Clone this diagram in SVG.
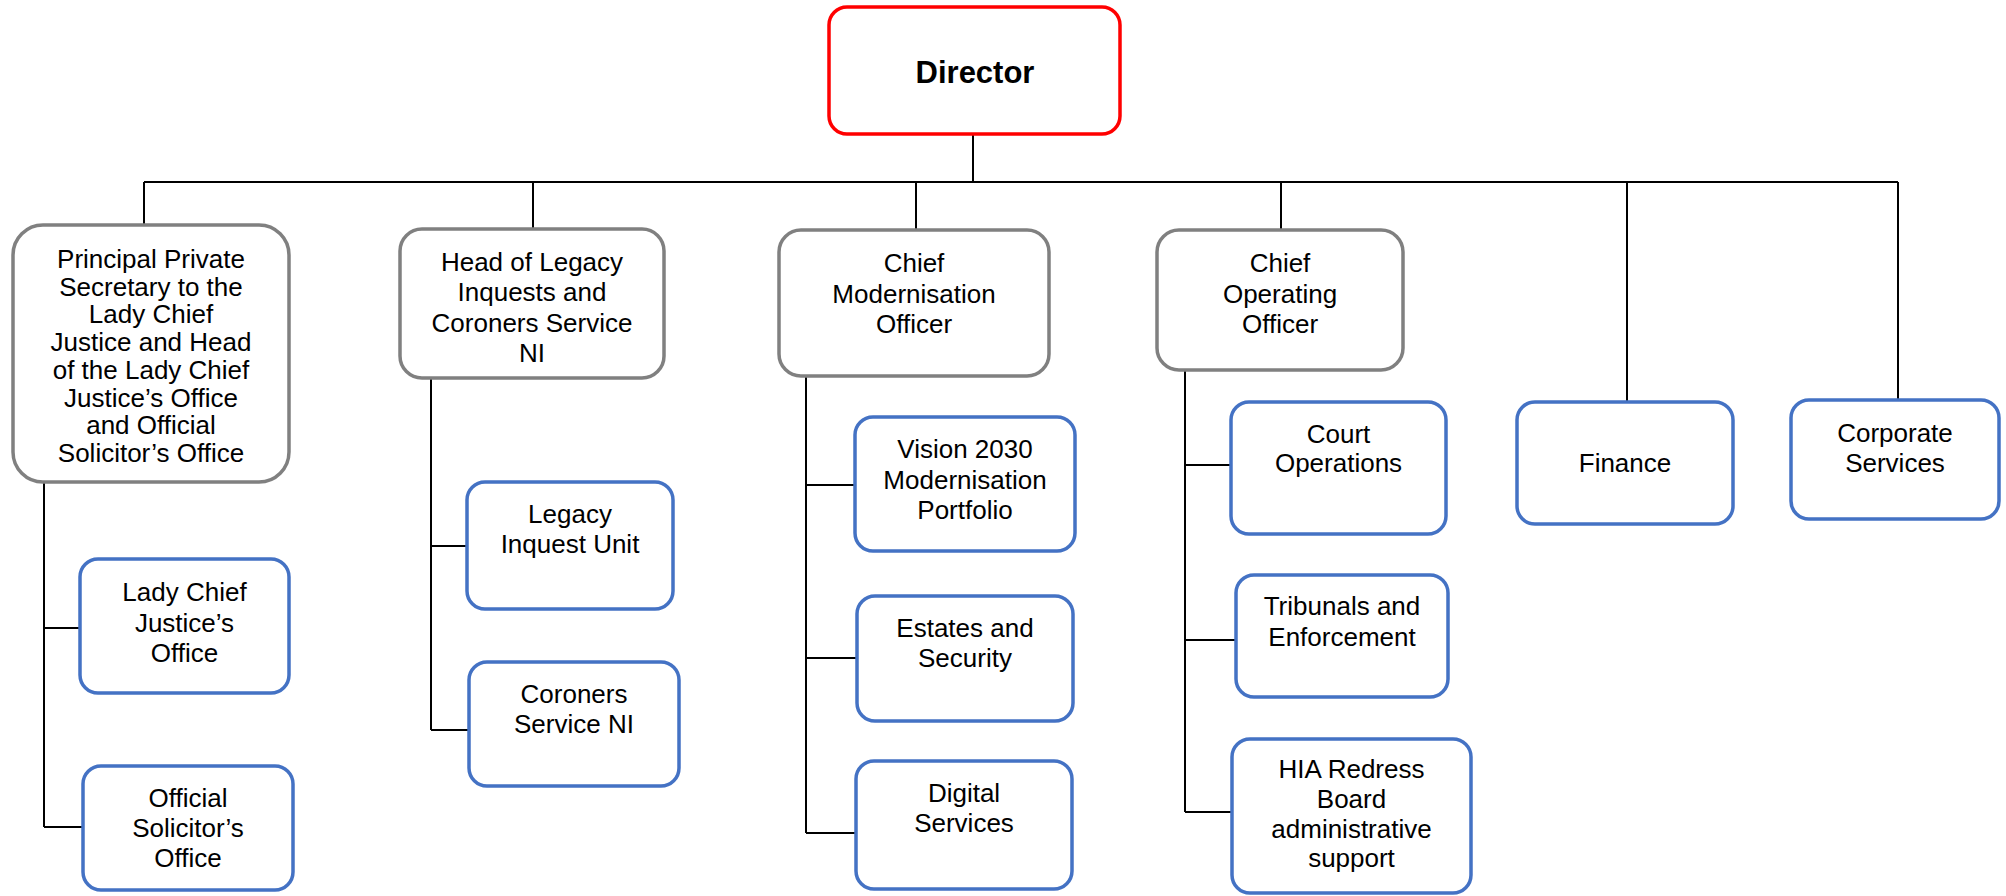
<svg xmlns="http://www.w3.org/2000/svg" width="2006" height="896" viewBox="0 0 2006 896">
<style>
text{font-family:"Liberation Sans",Arial,sans-serif;font-size:26px;fill:#000;text-anchor:middle}
.dir{font-size:31px;font-weight:bold}
.red{fill:#fff;stroke:#FF0000;stroke-width:3.5}
.gray{fill:#fff;stroke:#808080;stroke-width:3.5}
.blue{fill:#fff;stroke:#4472C4;stroke-width:3.5}
.conn{stroke:#000;stroke-width:2;fill:none}
</style>
<rect width="2006" height="896" fill="#fff"/>
<g id="connectors" class="conn">
<path d="M973,134 V182"/>
<path d="M144,182 H1898"/>
<path d="M144,182 V225"/>
<path d="M533,182 V229"/>
<path d="M916,182 V230"/>
<path d="M1281,182 V230"/>
<path d="M1627,182 V402"/>
<path d="M1898,182 V400"/>
<path d="M44,482 V827"/>
<path d="M44,628 H80"/>
<path d="M44,827 H83"/>
<path d="M431,378 V730"/>
<path d="M431,546 H467"/>
<path d="M431,730 H469"/>
<path d="M806,376 V833"/>
<path d="M806,485 H855"/>
<path d="M806,658 H857"/>
<path d="M806,833 H856"/>
<path d="M1185,370 V812"/>
<path d="M1185,465 H1231"/>
<path d="M1185,640 H1236"/>
<path d="M1185,812 H1232"/>
</g>
<g id="director">
<rect class="red" x="829" y="7" width="291" height="127" rx="18"/>
<text class="dir" x="975" y="83">Director</text>
</g>
<g id="pps">
<rect class="gray" x="13" y="225" width="276" height="257" rx="30"/>
<text x="151" y="268">Principal Private</text>
<text x="151" y="295.7">Secretary to the</text>
<text x="151" y="323.4">Lady Chief</text>
<text x="151" y="351.1">Justice and Head</text>
<text x="151" y="378.8">of the Lady Chief</text>
<text x="151" y="406.5">Justice’s Office</text>
<text x="151" y="434.2">and Official</text>
<text x="151" y="461.9">Solicitor’s Office</text>
</g>
<g id="legacy-head">
<rect class="gray" x="400" y="229" width="264" height="149" rx="22"/>
<text x="532" y="271">Head of Legacy</text>
<text x="532" y="301.3">Inquests and</text>
<text x="532" y="331.6">Coroners Service</text>
<text x="532" y="362">NI</text>
</g>
<g id="cmo">
<rect class="gray" x="779" y="230" width="270" height="146" rx="22"/>
<text x="914" y="272">Chief</text>
<text x="914" y="302.5">Modernisation</text>
<text x="914" y="333">Officer</text>
</g>
<g id="coo">
<rect class="gray" x="1157" y="230" width="246" height="140" rx="22"/>
<text x="1280" y="272">Chief</text>
<text x="1280" y="302.5">Operating</text>
<text x="1280" y="333">Officer</text>
</g>
<g id="finance">
<rect class="blue" x="1517" y="402" width="216" height="122" rx="18"/>
<text x="1625" y="472">Finance</text>
</g>
<g id="corporate">
<rect class="blue" x="1791" y="400" width="208" height="119" rx="18"/>
<text x="1895" y="442">Corporate</text>
<text x="1895" y="472">Services</text>
</g>
<g id="lcj-office">
<rect class="blue" x="80" y="559" width="209" height="134" rx="18"/>
<text x="184.5" y="601">Lady Chief</text>
<text x="184.5" y="632">Justice’s</text>
<text x="184.5" y="662">Office</text>
</g>
<g id="os-office">
<rect class="blue" x="83" y="766" width="210" height="124" rx="18"/>
<text x="188" y="807">Official</text>
<text x="188" y="837">Solicitor’s</text>
<text x="188" y="867">Office</text>
</g>
<g id="legacy-unit">
<rect class="blue" x="467" y="482" width="206" height="127" rx="18"/>
<text x="570" y="523">Legacy</text>
<text x="570" y="553">Inquest Unit</text>
</g>
<g id="coroners">
<rect class="blue" x="469" y="662" width="210" height="124" rx="18"/>
<text x="574" y="703">Coroners</text>
<text x="574" y="733">Service NI</text>
</g>
<g id="vision">
<rect class="blue" x="855" y="417" width="220" height="134" rx="18"/>
<text x="965" y="458">Vision 2030</text>
<text x="965" y="488.5">Modernisation</text>
<text x="965" y="519">Portfolio</text>
</g>
<g id="estates">
<rect class="blue" x="857" y="596" width="216" height="125" rx="18"/>
<text x="965" y="637">Estates and</text>
<text x="965" y="667">Security</text>
</g>
<g id="digital">
<rect class="blue" x="856" y="761" width="216" height="128" rx="18"/>
<text x="964" y="802">Digital</text>
<text x="964" y="832">Services</text>
</g>
<g id="court-ops">
<rect class="blue" x="1231" y="402" width="215" height="132" rx="18"/>
<text x="1338.5" y="443">Court</text>
<text x="1338.5" y="472">Operations</text>
</g>
<g id="tribunals">
<rect class="blue" x="1236" y="575" width="212" height="122" rx="18"/>
<text x="1342" y="615">Tribunals and</text>
<text x="1342" y="646">Enforcement</text>
</g>
<g id="hia">
<rect class="blue" x="1232" y="739" width="239" height="154" rx="18"/>
<text x="1351.5" y="778">HIA Redress</text>
<text x="1351.5" y="808">Board</text>
<text x="1351.5" y="837.5">administrative</text>
<text x="1351.5" y="867">support</text>
</g>
</svg>
